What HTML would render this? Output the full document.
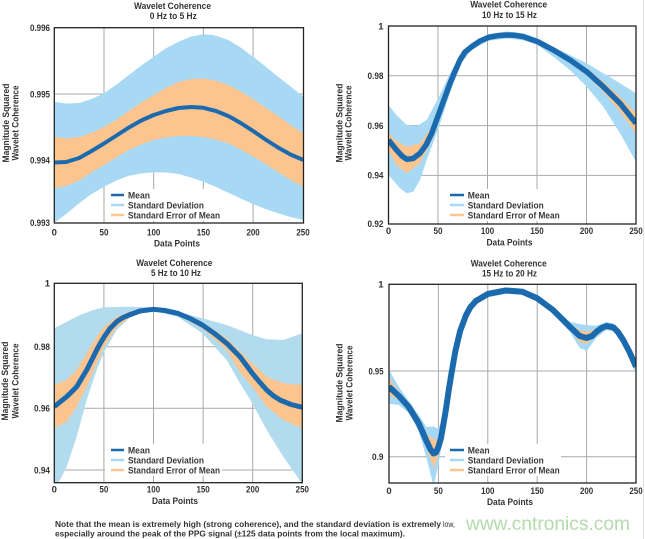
<!DOCTYPE html>
<html><head><meta charset="utf-8"><style>
html,body{margin:0;padding:0;background:#fff;width:645px;height:539px;overflow:hidden}
svg{display:block}
text{font-family:"Liberation Sans",Arial,sans-serif;font-weight:bold;fill:#333}
.t{font-size:9.5px}
.k{font-size:9.5px}
.lg{font-size:9.5px;fill:#3a3a3a}
.g{stroke:#a9a9a9;stroke-width:1;fill:none}
.fr{fill:none;stroke:#222;stroke-width:1.3}
.mean{fill:none;stroke:#1c6aae;stroke-linejoin:round;stroke-linecap:butt}
</style></head><body>
<svg width="645" height="539" viewBox="0 0 645 539" xmlns="http://www.w3.org/2000/svg">
<defs>
<clipPath id="c1"><rect x="54.3" y="27.7" width="249.2" height="195.3"/></clipPath>
<clipPath id="c2"><rect x="388.5" y="26" width="247.5" height="198"/></clipPath>
<clipPath id="c3"><rect x="54.3" y="283.3" width="248" height="199.4"/></clipPath>
<clipPath id="c4"><rect x="389" y="284.3" width="247" height="198.7"/></clipPath>
</defs>
<line x1="643.5" y1="0" x2="643.5" y2="539" stroke="#e2e2e2" stroke-width="1"/>

<!-- ===== PLOT 1 ===== -->
<text class="t" x="172.5" y="9" text-anchor="middle" textLength="77" lengthAdjust="spacingAndGlyphs">Wavelet Coherence</text>
<text class="t" x="173.3" y="19" text-anchor="middle" textLength="47" lengthAdjust="spacingAndGlyphs">0 Hz to 5 Hz</text>
<g class="g">
<line x1="104" y1="27.7" x2="104" y2="223"/><line x1="153.7" y1="27.7" x2="153.7" y2="223"/>
<line x1="203.4" y1="27.7" x2="203.4" y2="223"/><line x1="253.1" y1="27.7" x2="253.1" y2="223"/>
<line x1="54.3" y1="94" x2="303.5" y2="94"/><line x1="54.3" y1="160" x2="303.5" y2="160"/>
</g>
<rect x="108" y="189" width="114" height="32" fill="#fff"/>
<g clip-path="url(#c1)">
<polygon fill="#a7d9f4" points="54.3,101.7 66.2,103.5 79.2,103 91.6,99 104,93.3 116.5,84.5 128.9,75 141.3,65.5 153.7,56.7 166,48.3 178.6,41.7 191,36.5 203.4,34.2 213.4,35 221,37.5 228.3,40 240.7,47.5 253.1,56.7 265.5,66.5 278,76.7 290.5,86.5 303.5,96.7 303.5,220 290.5,217 278,213.3 265.5,209 253.1,204 240.7,198.5 228.3,192.7 216,187 203.4,181.7 191,177.5 178.6,174 166,172.5 153.7,172.3 141.3,173.5 128.9,175.7 116.5,180.5 104,186.7 91.6,194 79.2,203.3 66.2,214 54.3,222.7"/>
<polygon fill="#fcc58f" points="54.3,136.7 66.2,138.3 79.2,137 91.6,133 104,127 116.5,119.5 128.9,111 141.3,102.5 153.7,95 166,88 178.6,82 191,79 203.4,78.5 216,80.5 228.3,85 240.7,91.5 253.1,99 265.5,107.5 278,116 290.5,125 303.5,133.3 303.5,186.7 290.5,180 278,172 265.5,164 253.1,156.5 240.7,149.5 228.3,143.5 216,139.5 203.4,137 191,136 178.6,136 166,137.5 153.7,140 141.3,144.5 128.9,150 116.5,157.5 104,165 91.6,172.5 79.2,180.5 66.2,186 54.3,188.3"/>
<polyline class="mean" stroke-width="4" points="54.3,162.5 66.2,162 79.2,158 91.6,151 104,143.5 116.5,135.5 128.9,127.5 141.3,120.5 153.7,115 166,111 178.6,108 191,107 203.4,107.8 216,111 228.3,116 240.7,123 253.1,131 265.5,139.5 278,147.5 290.5,154.5 303.5,160"/>
</g>
<rect class="fr" x="54.3" y="27.7" width="249.2" height="195.3"/>
<line x1="111" y1="195" x2="124" y2="195" stroke="#1c6aae" stroke-width="2.5"/>
<line x1="111" y1="205" x2="124" y2="205" stroke="#a7d9f4" stroke-width="2.5"/>
<line x1="111" y1="215" x2="124" y2="215" stroke="#fcc58f" stroke-width="2.5"/>
<text class="lg" x="128" y="198.3" textLength="22" lengthAdjust="spacingAndGlyphs">Mean</text>
<text class="lg" x="128" y="208.3" textLength="76" lengthAdjust="spacingAndGlyphs">Standard Deviation</text>
<text class="lg" x="128" y="218.3" textLength="92" lengthAdjust="spacingAndGlyphs">Standard Error of Mean</text>
<g class="k" text-anchor="end">
<text x="50" y="31" textLength="20" lengthAdjust="spacingAndGlyphs">0.996</text>
<text x="50" y="97.3" textLength="20" lengthAdjust="spacingAndGlyphs">0.995</text>
<text x="50" y="163.3" textLength="20" lengthAdjust="spacingAndGlyphs">0.994</text>
<text x="50" y="226" textLength="20" lengthAdjust="spacingAndGlyphs">0.993</text>
</g>
<g class="k" text-anchor="middle">
<text x="54.3" y="235.5">0</text>
<text x="104" y="235.5" textLength="9" lengthAdjust="spacingAndGlyphs">50</text>
<text x="153.7" y="235.5" textLength="13.3" lengthAdjust="spacingAndGlyphs">100</text>
<text x="203.4" y="235.5" textLength="13.3" lengthAdjust="spacingAndGlyphs">150</text>
<text x="253.1" y="235.5" textLength="13.3" lengthAdjust="spacingAndGlyphs">200</text>
<text x="303" y="235.5" textLength="13.3" lengthAdjust="spacingAndGlyphs">250</text>
</g>
<text class="t" x="177" y="246.5" text-anchor="middle" textLength="46" lengthAdjust="spacingAndGlyphs">Data Points</text>
<text class="t" transform="translate(9,123) rotate(-90)" text-anchor="middle" textLength="79" lengthAdjust="spacingAndGlyphs">Magnitude Squared</text>
<text class="t" transform="translate(18.3,123) rotate(-90)" text-anchor="middle" textLength="75" lengthAdjust="spacingAndGlyphs">Wavelet Coherence</text>

<!-- ===== PLOT 2 ===== -->
<text class="t" x="508.7" y="7.5" text-anchor="middle" textLength="77" lengthAdjust="spacingAndGlyphs">Wavelet Coherence</text>
<text class="t" x="509.5" y="18" text-anchor="middle" textLength="55" lengthAdjust="spacingAndGlyphs">10 Hz to 15 Hz</text>
<g class="g">
<line x1="438" y1="26" x2="438" y2="224"/><line x1="487.5" y1="26" x2="487.5" y2="224"/>
<line x1="537" y1="26" x2="537" y2="224"/><line x1="586.5" y1="26" x2="586.5" y2="224"/>
<line x1="388.5" y1="75.8" x2="636" y2="75.8"/><line x1="388.5" y1="125.6" x2="636" y2="125.6"/><line x1="388.5" y1="175.4" x2="636" y2="175.4"/>
</g>
<rect x="447" y="189" width="114" height="32" fill="#fff"/>
<g clip-path="url(#c2)">
<polygon fill="#a7d9f4" points="388.5,105 396.5,115 406.7,125 416.7,126 426.7,120 439,96.7 450,73.3 460,55 471.7,43 488.7,34 506.7,31.5 523.3,33.2 537.7,38.2 553.3,46.7 570,55 586.7,63.3 603.3,73.3 620,83.3 636,93.3 636,161.7 620,133.3 603.3,106.7 586.7,86.7 570,70 553.3,56.7 537.7,45 523.3,40.2 506.7,38.5 488.7,40.7 471.7,50 460,65 450,93.3 439,126.7 426.7,160 420,180 413.3,191.7 406.7,193.3 400,188.3 388.5,175"/>
<polygon fill="#fcc58f" points="388.5,133.3 396.5,141 406.7,146.7 420,143.3 431.7,126.7 439,108 450,79 460,57 471.7,45 488.7,36 506.7,33.5 523.3,35.2 537.7,40.2 553.3,48.5 570,58.5 586.7,68.3 603.3,81.7 620,96.7 636,113.3 636,133.3 620,111.7 603.3,91.7 586.7,75 570,62 553.3,52 537.7,43.2 523.3,38.2 506.7,36.5 488.7,38.6 471.7,48.4 460,63 450,87.6 439,118.6 431.7,140 420,163.3 406.7,173.3 396.5,165 388.5,150"/>
<polyline class="mean" stroke-width="5.5" points="388.5,140 396.5,150 402,156 406.7,159.3 413,158.5 420,153.3 426,145 431.7,133.3 439,113.3 450,83.3 455,71.5 460,60 465,52 471.7,46.7 480,41 488.7,37.3 497,35.8 506.7,35 515,35.3 523.3,36.7 537.7,41.7 553.3,50 570,60 586.7,71.7 603.3,86.7 620,103.3 636,123.3"/>
</g>
<rect class="fr" x="388.5" y="26" width="247.5" height="198"/>
<line x1="450" y1="195" x2="464" y2="195" stroke="#1c6aae" stroke-width="2.5"/>
<line x1="450" y1="205" x2="464" y2="205" stroke="#a7d9f4" stroke-width="2.5"/>
<line x1="450" y1="215" x2="464" y2="215" stroke="#fcc58f" stroke-width="2.5"/>
<text class="lg" x="467.7" y="198.3" textLength="22" lengthAdjust="spacingAndGlyphs">Mean</text>
<text class="lg" x="467.7" y="208.3" textLength="76" lengthAdjust="spacingAndGlyphs">Standard Deviation</text>
<text class="lg" x="467.7" y="218.3" textLength="92" lengthAdjust="spacingAndGlyphs">Standard Error of Mean</text>
<g class="k" text-anchor="end">
<text x="383.5" y="29.3">1</text>
<text x="383.5" y="79" textLength="16" lengthAdjust="spacingAndGlyphs">0.98</text>
<text x="383.5" y="128.8" textLength="16" lengthAdjust="spacingAndGlyphs">0.96</text>
<text x="383.5" y="178.6" textLength="16" lengthAdjust="spacingAndGlyphs">0.94</text>
<text x="383.5" y="227.2" textLength="16" lengthAdjust="spacingAndGlyphs">0.92</text>
</g>
<g class="k" text-anchor="middle">
<text x="388.5" y="234">0</text>
<text x="438" y="234" textLength="9" lengthAdjust="spacingAndGlyphs">50</text>
<text x="487.5" y="234" textLength="13.3" lengthAdjust="spacingAndGlyphs">100</text>
<text x="537" y="234" textLength="13.3" lengthAdjust="spacingAndGlyphs">150</text>
<text x="586.5" y="234" textLength="13.3" lengthAdjust="spacingAndGlyphs">200</text>
<text x="636" y="234" textLength="13.3" lengthAdjust="spacingAndGlyphs">250</text>
</g>
<text class="t" x="509.5" y="245.5" text-anchor="middle" textLength="46" lengthAdjust="spacingAndGlyphs">Data Points</text>
<text class="t" transform="translate(342.3,123) rotate(-90)" text-anchor="middle" textLength="79" lengthAdjust="spacingAndGlyphs">Magnitude Squared</text>
<text class="t" transform="translate(351.6,123) rotate(-90)" text-anchor="middle" textLength="75" lengthAdjust="spacingAndGlyphs">Wavelet Coherence</text>

<!-- ===== PLOT 3 ===== -->
<text class="t" x="174.3" y="266" text-anchor="middle" textLength="76" lengthAdjust="spacingAndGlyphs">Wavelet Coherence</text>
<text class="t" x="176" y="276" text-anchor="middle" textLength="50" lengthAdjust="spacingAndGlyphs">5 Hz to 10 Hz</text>
<g class="g">
<line x1="103.9" y1="283.3" x2="103.9" y2="482.7"/><line x1="153.5" y1="283.3" x2="153.5" y2="482.7"/>
<line x1="203.1" y1="283.3" x2="203.1" y2="482.7"/><line x1="252.7" y1="283.3" x2="252.7" y2="482.7"/>
<line x1="54.3" y1="346.7" x2="302.3" y2="346.7"/><line x1="54.3" y1="408.3" x2="302.3" y2="408.3"/><line x1="54.3" y1="470" x2="302.3" y2="470"/>
</g>
<rect x="105" y="444" width="117" height="32" fill="#fff"/>
<g clip-path="url(#c3)">
<polygon fill="#b3dbee" points="54.3,328.3 66.7,321.7 80,315 93.3,310 104.3,307.3 129,306.7 153.3,307.3 177.7,311.7 202.3,318.3 226.7,325 252.3,335 266.7,339.3 283.3,340 302.3,333.3 302.3,484 283.3,456.7 266.7,430 252.3,403.3 240,383.3 226.7,360 202.3,333.3 177.7,316.7 153.3,311 140,313.3 129,318.3 116.7,330 104.3,351.7 96.7,370 86.7,400 76.7,436.7 66.7,466.7 60,480 54.3,486"/>
<polygon fill="#fcc58f" points="54.3,385 66.7,380 76.7,370 86.7,353.3 96.7,336.7 104.3,326.7 116.7,316.7 129,312 140,309 153.3,307.5 177.7,311.5 202.3,322 226.7,338.3 252.3,363.3 266.7,376.7 283.3,383.3 302.3,385 302.3,428.3 283.3,420 266.7,406.7 252.3,386.7 240,372 226.7,350 202.3,328.5 177.7,315.2 153.3,311.2 140,313 129,318 116.7,327 104.3,346.7 96.7,363.3 86.7,386.7 76.7,406.7 66.7,421.7 54.3,428.3"/>
<polyline class="mean" stroke-width="5" points="54.3,406.7 60,402 66.7,396.7 71,392.5 76.7,386.7 81,379.5 86.7,370 91.5,360.5 96.7,350 100.5,343 104.3,336.7 110,328.5 116.7,321.7 122.5,317.8 129,315 140,311 153.3,309.3 165,310.5 177.7,313.3 190,318.5 202.3,325 214.5,333.5 226.7,343.3 240,356.7 252.3,373.3 259.5,382 266.7,390 273,395.5 280,400 291,404.5 302.3,407.3"/>
</g>
<rect class="fr" x="54.3" y="283.3" width="248" height="199.4"/>
<line x1="111" y1="450" x2="124" y2="450" stroke="#1c6aae" stroke-width="2.5"/>
<line x1="111" y1="460" x2="124" y2="460" stroke="#a7d9f4" stroke-width="2.5"/>
<line x1="111" y1="470" x2="124" y2="470" stroke="#fcc58f" stroke-width="2.5"/>
<text class="lg" x="128" y="453.3" textLength="22" lengthAdjust="spacingAndGlyphs">Mean</text>
<text class="lg" x="128" y="463.3" textLength="76" lengthAdjust="spacingAndGlyphs">Standard Deviation</text>
<text class="lg" x="128" y="473.3" textLength="92" lengthAdjust="spacingAndGlyphs">Standard Error of Mean</text>
<g class="k" text-anchor="end">
<text x="50" y="286.6">1</text>
<text x="50" y="350" textLength="16" lengthAdjust="spacingAndGlyphs">0.98</text>
<text x="50" y="411.6" textLength="16" lengthAdjust="spacingAndGlyphs">0.96</text>
<text x="50" y="473.3" textLength="16" lengthAdjust="spacingAndGlyphs">0.94</text>
</g>
<g class="k" text-anchor="middle">
<text x="54.3" y="492.5">0</text>
<text x="103.9" y="492.5" textLength="9" lengthAdjust="spacingAndGlyphs">50</text>
<text x="153.5" y="492.5" textLength="13.3" lengthAdjust="spacingAndGlyphs">100</text>
<text x="203.1" y="492.5" textLength="13.3" lengthAdjust="spacingAndGlyphs">150</text>
<text x="252.7" y="492.5" textLength="13.3" lengthAdjust="spacingAndGlyphs">200</text>
<text x="302.3" y="492.5" textLength="13.3" lengthAdjust="spacingAndGlyphs">250</text>
</g>
<text class="t" x="175" y="504" text-anchor="middle" textLength="46" lengthAdjust="spacingAndGlyphs">Data Points</text>
<text class="t" transform="translate(8,381) rotate(-90)" text-anchor="middle" textLength="79" lengthAdjust="spacingAndGlyphs">Magnitude Squared</text>
<text class="t" transform="translate(18.3,381) rotate(-90)" text-anchor="middle" textLength="75" lengthAdjust="spacingAndGlyphs">Wavelet Coherence</text>

<!-- ===== PLOT 4 ===== -->
<text class="t" x="508.7" y="266.5" text-anchor="middle" textLength="76" lengthAdjust="spacingAndGlyphs">Wavelet Coherence</text>
<text class="t" x="509.5" y="276.5" text-anchor="middle" textLength="55" lengthAdjust="spacingAndGlyphs">15 Hz to 20 Hz</text>
<g class="g">
<line x1="438.4" y1="284.3" x2="438.4" y2="483"/><line x1="487.8" y1="284.3" x2="487.8" y2="483"/>
<line x1="537.2" y1="284.3" x2="537.2" y2="483"/><line x1="586.6" y1="284.3" x2="586.6" y2="483"/>
<line x1="389" y1="371" x2="636" y2="371"/><line x1="389" y1="456.7" x2="636" y2="456.7"/>
</g>
<rect x="445" y="444" width="116" height="32" fill="#fff"/>
<g clip-path="url(#c4)">
<polygon fill="#a7d9f4" points="389,369.7 398.9,387 408.8,401 418.6,415 426.5,427 433.5,426.5 438.4,429 443.3,415 448.3,387 451.2,371 455.2,349 460.1,328 466.1,312 475.9,298 487.8,291 505.6,287.5 522.4,288.7 537.2,295.3 553,307 569.8,321.7 579.7,324 586.6,325 596.5,325.7 606.4,322 613.3,323.3 623.2,335 636,359.7 636,373.7 623.2,345 613.3,331.3 606.4,330 596.5,337.7 586.6,351 579.7,348 569.8,331.7 553,313 537.2,301.3 522.4,294.7 505.6,293.5 487.8,297 475.9,304 466.1,318 460.1,334 455.2,355 451.2,379 448.3,399 443.3,435 438.4,465 433.5,486 426.5,458 418.6,431 408.8,413 398.9,405 389,403.7"/>
<polygon fill="#fcc58f" points="389,378.7 398.9,392 408.8,404 418.6,419 426.5,434 433.5,439.5 438.4,438 443.3,421 448.3,391 451.2,373 455.2,350 460.1,329 466.1,313 475.9,299 487.8,292 505.6,288.5 522.4,289.7 537.2,296.3 553,308 569.8,324.7 579.7,330 586.6,332 596.5,328.7 606.4,324 613.3,325.3 623.2,338 636,364.7 636,368.7 623.2,342 613.3,329.3 606.4,328 596.5,334.7 586.6,344 579.7,342 569.8,328.7 553,312 537.2,300.3 522.4,293.7 505.6,292.5 487.8,296 475.9,303 466.1,317 460.1,333 455.2,354 451.2,377 448.3,395 443.3,429 438.4,456 433.5,467.5 426.5,448 418.6,427 408.8,410 398.9,400 389,394.7"/>
<polyline class="mean" stroke-width="6" points="389,386.7 398.9,396 408.8,407 418.6,423 426.5,441 430.5,449.5 433.5,453.5 436,452.5 438.4,447 441,438 443.3,425 446,409 448.3,393 451.2,375 455.2,352 460.1,331 466.1,315 470.5,307 475.9,301 487.8,294 505.6,290.5 522.4,291.7 537.2,298.3 553,310 569.8,326.7 579.7,336 586.6,338 592,336 596.5,331.7 601.5,328 606.4,326 613.3,327.3 618,332 623.2,340 629.5,352 636,366.7"/>
</g>
<rect class="fr" x="389" y="284.3" width="247" height="198.7"/>
<line x1="450" y1="450" x2="464" y2="450" stroke="#1c6aae" stroke-width="2.5"/>
<line x1="450" y1="460" x2="464" y2="460" stroke="#a7d9f4" stroke-width="2.5"/>
<line x1="450" y1="470" x2="464" y2="470" stroke="#fcc58f" stroke-width="2.5"/>
<text class="lg" x="467.7" y="453.3" textLength="22" lengthAdjust="spacingAndGlyphs">Mean</text>
<text class="lg" x="467.7" y="463.3" textLength="76" lengthAdjust="spacingAndGlyphs">Standard Deviation</text>
<text class="lg" x="467.7" y="473.3" textLength="92" lengthAdjust="spacingAndGlyphs">Standard Error of Mean</text>
<g class="k" text-anchor="end">
<text x="383.5" y="287.6">1</text>
<text x="383.5" y="374.3" textLength="15" lengthAdjust="spacingAndGlyphs">0.95</text>
<text x="383.5" y="460" textLength="11.5" lengthAdjust="spacingAndGlyphs">0.9</text>
</g>
<g class="k" text-anchor="middle">
<text x="389" y="494">0</text>
<text x="438.4" y="494" textLength="9" lengthAdjust="spacingAndGlyphs">50</text>
<text x="487.8" y="494" textLength="13.3" lengthAdjust="spacingAndGlyphs">100</text>
<text x="537.2" y="494" textLength="13.3" lengthAdjust="spacingAndGlyphs">150</text>
<text x="586.6" y="494" textLength="13.3" lengthAdjust="spacingAndGlyphs">200</text>
<text x="636" y="494" textLength="13.3" lengthAdjust="spacingAndGlyphs">250</text>
</g>
<text class="t" x="510" y="505" text-anchor="middle" textLength="46" lengthAdjust="spacingAndGlyphs">Data Points</text>
<text class="t" transform="translate(342.3,383) rotate(-90)" text-anchor="middle" textLength="79" lengthAdjust="spacingAndGlyphs">Magnitude Squared</text>
<text class="t" transform="translate(352.6,383) rotate(-90)" text-anchor="middle" textLength="75" lengthAdjust="spacingAndGlyphs">Wavelet Coherence</text>

<!-- ===== NOTE ===== -->
<text x="55" y="527" style="font-size:8.5px" fill="#222" textLength="386" lengthAdjust="spacingAndGlyphs">Note that the mean is extremely high (strong coherence), and the standard deviation is extremely</text>
<text x="443" y="527" style="font-size:8px;font-weight:normal" textLength="12" lengthAdjust="spacingAndGlyphs">low,</text>
<text x="55" y="536.5" style="font-size:8.5px" fill="#222" textLength="350" lengthAdjust="spacingAndGlyphs">especially around the peak of the PPG signal (±125 data points from the local maximum).</text>
<text x="466" y="530" style="font-size:19px;font-weight:normal;fill:#b3dbab" textLength="164" lengthAdjust="spacingAndGlyphs">www.cntronics.com</text>
</svg>
</body></html>
